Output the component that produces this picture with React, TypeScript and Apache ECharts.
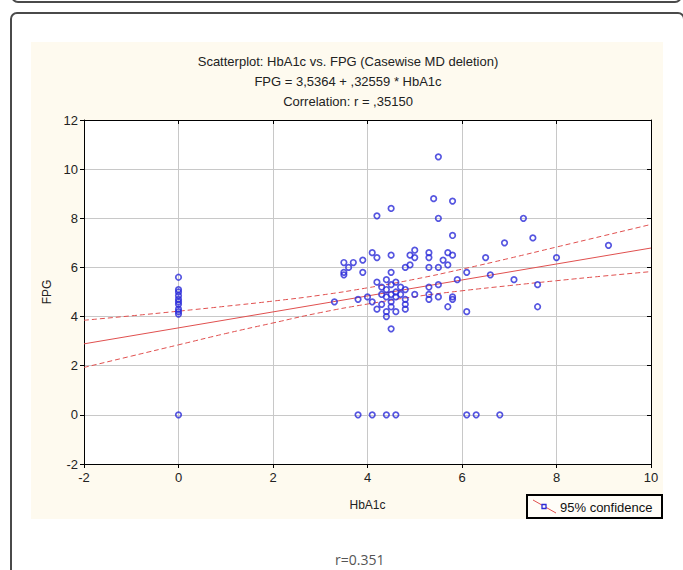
import React, { useEffect, useRef } from "react";
import * as echarts from "echarts";

// x = HbA1c, y = FPG
const zeroHbA1cPoints: number[][] = [
  [0, 5.6], [0, 5.1], [0, 5.0], [0, 4.85], [0, 4.7], [0, 4.6], [0, 4.5], [0, 4.3], [0, 4.2], [0, 4.1], [0, 0],
];
const zeroFpgPoints: number[][] = [
  [3.8, 0], [4.1, 0], [4.4, 0], [4.6, 0], [6.1, 0], [6.3, 0], [6.8, 0],
];
const mainPoints: number[][] = [
  [5.5, 10.5], [5.4, 8.8], [5.8, 8.7], [4.5, 8.4], [4.2, 8.1], [5.5, 8.0], [7.3, 8.0], [5.8, 7.3], [6.9, 7.0], [7.5, 7.2], [9.1, 6.9],
  [4.1, 6.6], [4.2, 6.4], [4.5, 6.5], [5.0, 6.7], [4.9, 6.5], [5.0, 6.4], [5.3, 6.6], [5.3, 6.4], [5.7, 6.6], [5.8, 6.5], [5.6, 6.3], [6.5, 6.4], [8.0, 6.4],
  [3.5, 6.2], [3.7, 6.2], [3.9, 6.3], [3.6, 6.0], [3.5, 5.8], [3.5, 5.7], [3.9, 5.8], [4.5, 5.8], [4.8, 6.0], [4.9, 6.1], [5.3, 6.0], [5.5, 6.0], [5.7, 6.1], [6.1, 5.8], [6.6, 5.7], [7.1, 5.5], [5.9, 5.5], [7.6, 5.3], [7.6, 4.4],
  [3.3, 4.6], [3.8, 4.7], [4.0, 4.8], [4.1, 4.6],
  [4.2, 5.4], [4.4, 5.5], [4.6, 5.4], [4.3, 5.2], [4.5, 5.3], [4.4, 5.1], [4.7, 5.2], [4.8, 5.1], [4.6, 5.0], [4.3, 4.9], [4.5, 4.9], [4.7, 4.9], [4.4, 4.8], [4.6, 4.8], [4.8, 4.7], [4.3, 4.5], [4.5, 4.6], [4.2, 4.3], [4.4, 4.2], [4.6, 4.2], [4.8, 4.3], [4.5, 4.4], [4.8, 4.5], [4.4, 4.0], [4.5, 3.5],
  [5.0, 4.9], [5.3, 5.2], [5.3, 4.9], [5.3, 4.7], [5.5, 5.3], [5.5, 4.8], [5.8, 4.8], [5.8, 4.7], [5.7, 4.4], [6.1, 4.2],
];

// regression line FPG = 3.5364 + 0.32559 * HbA1c, endpoints
const regX = [-2, 10];
const regY = [2.89, 6.79];

// 95% confidence band
const bandX = [-2, -1, 0, 1, 2, 3, 4, 5, 6, 7, 8, 9, 10];
const upperY = [3.85, 4.03, 4.22, 4.42, 4.63, 4.87, 5.17, 5.52, 5.93, 6.37, 6.83, 7.29, 7.75];
const lowerY = [1.93, 2.39, 2.85, 3.31, 3.74, 4.16, 4.51, 4.81, 5.05, 5.26, 5.46, 5.65, 5.83];

const xTicks = { min: -2, max: 10, interval: 2 };
const yTicks = { min: -2, max: 12, interval: 2 };

const titleLines = [
  "Scatterplot: HbA1c vs. FPG (Casewise MD deletion)",
  "FPG = 3,5364 + ,32559 * HbA1c",
  "Correlation: r = ,35150",
];

const FONT = "'Liberation Sans', Arial, sans-serif";
const RED = "#e0504f";
const BLUE = "#2b2bd8";

export default function App() {
  const ref = useRef<HTMLDivElement>(null);
  useEffect(() => {
    if (!ref.current) return;
    const chart = echarts.init(ref.current, null, { renderer: "svg" });
    const allPoints = [...zeroHbA1cPoints, ...zeroFpgPoints, ...mainPoints];
    const axisLabel = { fontFamily: FONT, fontSize: 13, color: "#222" };
    const option: any = {
      animation: false,
      backgroundColor: "#ffffff",
      grid: {
        left: 84,
        right: 32,
        top: 120,
        bottom: 106,
        show: true,
        backgroundColor: "#ffffff",
        borderWidth: 0,
      },
      xAxis: [
        {
          type: "value",
          min: xTicks.min,
          max: xTicks.max,
          interval: xTicks.interval,
          position: "bottom",
          name: "HbA1c",
          nameLocation: "middle",
          nameGap: 35,
          nameTextStyle: { fontFamily: FONT, fontSize: 12, color: "#222" },
          axisLine: { show: true, onZero: false, lineStyle: { color: "#000", width: 1 } },
          axisTick: { show: true, inside: false, length: 4, lineStyle: { color: "#000" } },
          axisLabel: { ...axisLabel, margin: 7 },
          splitLine: { show: true, lineStyle: { color: "#c8c8c8", width: 1 } },
        },
        {
          type: "value",
          min: xTicks.min,
          max: xTicks.max,
          interval: xTicks.interval,
          position: "top",
          axisLine: { show: true, onZero: false, lineStyle: { color: "#000", width: 1 } },
          axisTick: { show: true, inside: true, length: 4, lineStyle: { color: "#000" } },
          axisLabel: { show: false },
          splitLine: { show: false },
        },
      ],
      yAxis: [
        {
          type: "value",
          min: yTicks.min,
          max: yTicks.max,
          interval: yTicks.interval,
          position: "left",
          name: "FPG",
          nameLocation: "middle",
          nameGap: 30,
          nameTextStyle: { fontFamily: FONT, fontSize: 12, color: "#222" },
          axisLine: { show: true, onZero: false, lineStyle: { color: "#000", width: 1 } },
          axisTick: { show: true, inside: false, length: 4, lineStyle: { color: "#000" } },
          axisLabel: { ...axisLabel, margin: 6 },
          splitLine: { show: true, lineStyle: { color: "#c8c8c8", width: 1 } },
        },
        {
          type: "value",
          min: yTicks.min,
          max: yTicks.max,
          interval: yTicks.interval,
          position: "right",
          axisLine: { show: true, onZero: false, lineStyle: { color: "#000", width: 1 } },
          axisTick: { show: true, inside: true, length: 4, lineStyle: { color: "#000" } },
          axisLabel: { show: false },
          splitLine: { show: false },
        },
      ],
      series: [
        {
          type: "line",
          data: regX.map((x, i) => [x, regY[i]]),
          showSymbol: false,
          symbol: "none",
          lineStyle: { color: RED, width: 1 },
          z: 2,
        },
        {
          type: "line",
          data: bandX.map((x, i) => [x, upperY[i]]),
          smooth: true,
          symbol: "none",
          lineStyle: { color: RED, width: 1, type: [5, 3] },
          z: 2,
        },
        {
          type: "line",
          data: bandX.map((x, i) => [x, lowerY[i]]),
          smooth: true,
          symbol: "none",
          lineStyle: { color: RED, width: 1, type: [5, 3] },
          z: 2,
        },
        {
          type: "scatter",
          data: allPoints,
          symbol: "circle",
          symbolSize: 5.5,
          itemStyle: { color: "rgba(255,255,255,0)", borderColor: BLUE, borderWidth: 1.7 },
          z: 3,
        },
      ],
      graphic: [
        {
          type: "rect",
          z: -20,
          shape: { x: 12, y: -20, width: 669, height: 22, r: 6 },
          style: { fill: "#ffffff", stroke: "#4a4a4a", lineWidth: 2 },
        },
        {
          type: "rect",
          z: -20,
          shape: { x: 11, y: 13, width: 673, height: 620, r: 6 },
          style: { fill: "#ffffff", stroke: "#4a4a4a", lineWidth: 2 },
        },
        {
          type: "rect",
          z: -10,
          shape: { x: 31, y: 42, width: 632, height: 477 },
          style: { fill: "#fefaef" },
        },
        ...titleLines.map((t, i) => ({
          type: "text",
          z: 10,
          x: 348,
          y: 61 + i * 20,
          style: {
            text: t,
            fill: "#222",
            font: `13px ${FONT}`,
            textAlign: "center",
            textVerticalAlign: "middle",
          },
        })),
        {
          type: "rect",
          z: 10,
          shape: { x: 527, y: 495, width: 135, height: 23 },
          style: { fill: "#fffdf8", stroke: "#000", lineWidth: 2 },
        },
        {
          type: "line",
          z: 11,
          shape: { x1: 533, y1: 500, x2: 556, y2: 513 },
          style: { stroke: RED, lineWidth: 1 },
        },
        {
          type: "rect",
          z: 12,
          shape: { x: 542, y: 504.5, width: 4, height: 4 },
          style: { fill: "#fffdf8", stroke: BLUE, lineWidth: 1.3 },
        },
        {
          type: "text",
          z: 12,
          x: 560,
          y: 507,
          style: {
            text: "95% confidence",
            fill: "#111",
            font: `13px ${FONT}`,
            textAlign: "left",
            textVerticalAlign: "middle",
          },
        },
        {
          type: "text",
          z: 10,
          x: 335,
          y: 552,
          style: {
            text: "r=0.351",
            fill: "#555",
            font: `14px 'Open Sans', sans-serif`,
            textAlign: "left",
            textVerticalAlign: "top",
          },
        },
      ],
    };
    chart.setOption(option);
    return () => chart.dispose();
  }, []);
  return (
    <div
      ref={ref}
      style={{ position: "absolute", left: 0, top: 0, width: 683, height: 570 }}
    />
  );
}
